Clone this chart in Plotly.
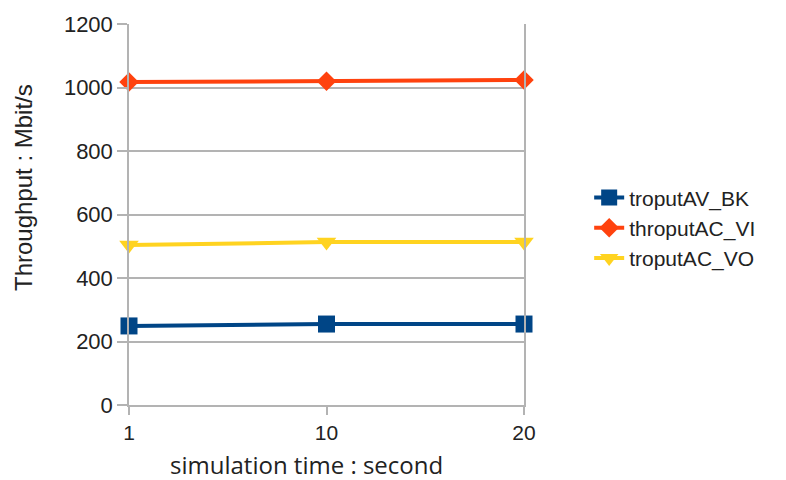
import plotly.graph_objects as go

categories = ["1", "10", "20"]
series_names = ["troputAV_BK", "throputAC_VI", "troputAC_VO"]
bk_values = [249, 255, 255]
vi_values = [1017, 1020, 1024]
vo_values = [504, 513, 513]
y_ticks = [0, 200, 400, 600, 800, 1000, 1200]

colors = ["#004586", "#ff420e", "#ffd320"]
symbols = ["square", "diamond", "triangle-down"]
sizes = [17, 15, 17]

fig = go.Figure()
for name, vals, c, s, sz in zip(series_names, [bk_values, vi_values, vo_values], colors, symbols, sizes):
    fig.add_trace(go.Scatter(
        x=categories, y=vals, name=name, mode="lines+markers",
        line=dict(color=c, width=4),
        marker=dict(color=c, symbol=s, size=sz),
        cliponaxis=False,
    ))

fig.update_layout(
    width=786, height=480,
    margin=dict(l=129, r=262, t=24, b=75),
    plot_bgcolor="white", paper_bgcolor="white",
    font=dict(family="Liberation Sans", size=21, color="#222222"),
    showlegend=True,
    legend=dict(x=1.165, y=0.465, xanchor="left", yanchor="middle",
                font=dict(family="Liberation Sans", size=21, color="#222222"),
                tracegroupgap=0),
    xaxis=dict(
        type="category", range=[0, 2],
        showgrid=False, showline=True, linecolor="#b3b3b3", linewidth=1.5,
        ticks="outside", ticklen=8, tickcolor="#b3b3b3", tickwidth=1.5,
        tickfont=dict(family="Liberation Sans", size=21, color="#222222"),
        zeroline=False,
    ),
    yaxis=dict(
        range=[0, 1200], tickvals=y_ticks,
        showgrid=True, gridcolor="#b3b3b3", gridwidth=1.5,
        showline=True, mirror=True, linecolor="#b3b3b3", linewidth=1.5,
        ticks="outside", ticklen=10, tickcolor="#b3b3b3", tickwidth=1.5,
        tickfont=dict(family="Liberation Sans", size=22, color="#222222"),
        zeroline=False,
    ),
    annotations=[
        dict(text="simulation time : second", xref="paper", yref="paper",
             x=(306 - 129) / 395, y=-(464 - 405) / 381, xanchor="center", yanchor="middle",
             showarrow=False, font=dict(family="Open Sans", size=24, color="#222222")),
        dict(text="Throughput : Mbit/s", xref="paper", yref="paper", textangle=-90,
             x=(23 - 129) / 395, y=(405 - 188) / 381, xanchor="center", yanchor="middle",
             showarrow=False, font=dict(family="Liberation Sans", size=24, color="#222222")),
    ],
)

fig.write_html("out.html")
